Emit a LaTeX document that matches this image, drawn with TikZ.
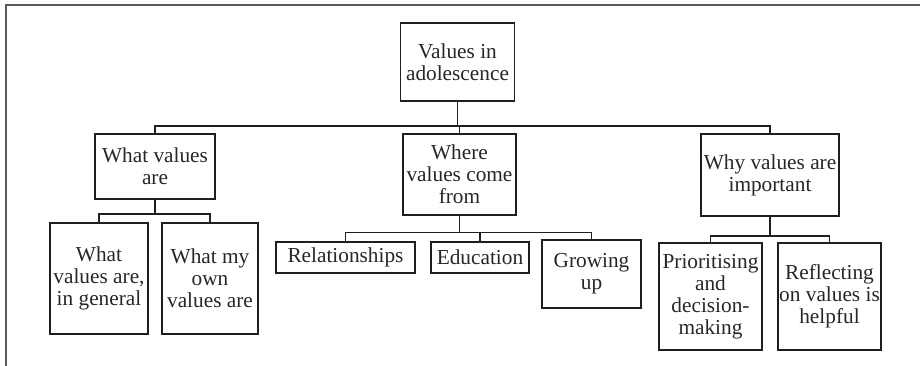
\documentclass[tikz,border=0pt]{standalone}
\usepackage{fontspec}
\setmainfont{Liberation Serif}
\begin{document}
\begin{tikzpicture}[x=1pt,y=-1pt,
  box/.style={draw=black!88, line width=1.8pt, inner sep=0pt, align=center,
    text=black!85, font=\fontsize{21.3}{22}\selectfont},
  conn/.style={draw=black!88, line width=1.8pt},
  frame/.style={draw=black!65, line width=1.4pt}]
\useasboundingbox (0,0) rectangle (920,365);
\draw[frame] (6,366) -- (6,5) -- (921,5);
% level 1
\node[box, minimum width=114pt, minimum height=78pt] (root) at (457.5,62) {Values in\\adolescence};
% level 2
\node[box, minimum width=120pt, minimum height=65pt] (A) at (155,166.5) {What values\\are};
\node[box, minimum width=113pt, minimum height=81pt] (B) at (459.5,174.5) {Where\\values come\\from};
\node[box, minimum width=138pt, minimum height=82pt] (C) at (770,175) {Why values are\\important};
% level 3
\node[box, minimum width=98pt, minimum height=111pt] (A1) at (99,278.5) {What\\values are,\\in general};
\node[box, minimum width=96pt, minimum height=111pt] (A2) at (210,278.5) {What my\\own\\values are};
\node[box, minimum width=139pt, minimum height=31pt] (B1) at (345.5,257.5) {Relationships};
\node[box, minimum width=98pt, minimum height=31pt] (B2) at (480,257.5) {Education};
\node[box, minimum width=99pt, minimum height=68pt] (B3) at (591.5,274) {Growing\\up};
\node[box, minimum width=103pt, minimum height=107pt] (C1) at (710.5,296.5) {Prioritising\\and\\decision-\\making};
\node[box, minimum width=103pt, minimum height=107pt] (C2) at (829.5,296.5) {Reflecting\\on values is\\helpful};
% junctions
\coordinate (j1) at (457.5,126);
\coordinate (j2) at (155,214);
\coordinate (j3) at (459.5,232.5);
\coordinate (j4) at (770,236);
% connectors
\draw[conn] (root.south) -- (j1);
\draw[conn] (j1) -| (A.north);
\draw[conn] (j1) -| (B.north);
\draw[conn] (j1) -| (C.north);
\draw[conn] (A.south) -- (j2);
\draw[conn] (j2) -| (A1.north);
\draw[conn] (j2) -| (A2.north);
\draw[conn] (B.south) -- (j3);
\draw[conn] (j3) -| (B1.north);
\draw[conn] (j3) -| (B2.north);
\draw[conn] (j3) -| (B3.north);
\draw[conn] (C.south) -- (j4);
\draw[conn] (j4) -| (C1.north);
\draw[conn] (j4) -| (C2.north);
\end{tikzpicture}
\end{document}
